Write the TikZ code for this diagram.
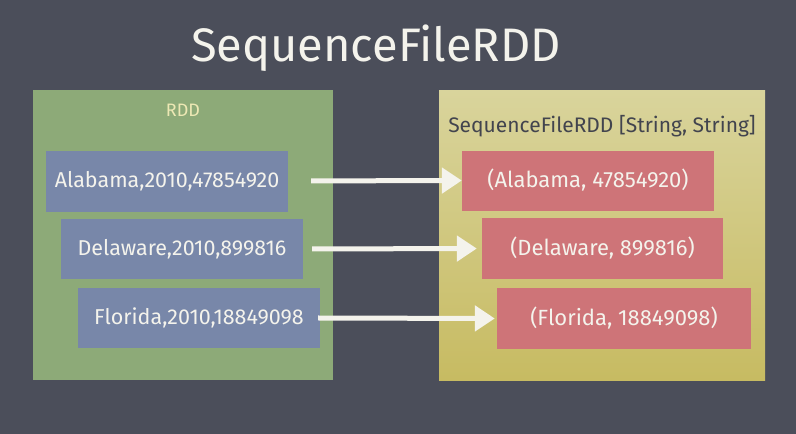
\documentclass[tikz,border=0pt]{standalone}
\usepackage{fontspec}
\setmainfont{Fira Sans}
\usetikzlibrary{arrows.meta}
\definecolor{board}{HTML}{4B4E5A}
\definecolor{chalk}{HTML}{F4F3EC}
\definecolor{rddgreen}{HTML}{8DAA78}
\definecolor{rowblue}{HTML}{7887A9}
\definecolor{seqtop}{HTML}{D9D49C}
\definecolor{seqbottom}{HTML}{C7BB62}
\definecolor{pairred}{HTML}{CE7478}
\definecolor{rddlabel}{HTML}{EDE8B4}
\definecolor{seqlabel}{HTML}{42444E}
\tikzset{
    panel/.style={inner sep=0pt, minimum width=#1},
    rowbox/.style={fill=rowblue, inner sep=0pt, minimum width=242pt,
        minimum height=61pt, text=chalk, font=\fontsize{21.5}{25}\selectfont},
    pairbox/.style={fill=pairred, inner sep=0pt, minimum height=60pt,
        text=chalk, font=\fontsize{22}{26}\selectfont},
    maparrow/.style={draw=chalk, line width=5pt,
        -{Triangle[width=25pt,length=20pt]}},
}
\begin{document}
\begin{tikzpicture}[x=1pt,y=-1pt]
    \fill[board] (0,0) rectangle (796,434);
    \useasboundingbox (0,0) rectangle (796,434);
    % title
    \node[text=chalk, font=\fontsize{47}{54}\selectfont] (title) at (376,48) {SequenceFileRDD};
    % the two panels
    \node[panel=300pt, minimum height=290pt, fill=rddgreen] (rdd) at (183,235) {};
    \node[panel=326pt, minimum height=290pt, top color=seqtop, bottom color=seqbottom] (seqrdd) at (602,235) {};
    \node[text=rddlabel, font=\fontsize{18}{21}\selectfont] (rddname) at (183,110) {RDD};
    \node[text=seqlabel, font=\fontsize{21}{24}\selectfont] (seqname) at (602,126) {SequenceFileRDD [String, String]};
    % rows of the text file
    \node[rowbox] (row1) at (167,181) {Alabama,2010,47854920};
    \node[rowbox, minimum height=60pt] (row2) at (182,249) {Delaware,2010,899816};
    \node[rowbox, minimum height=60pt] (row3) at (199,318) {Florida,2010,18849098};
    % key, value pairs
    \node[pairbox, minimum width=252pt] (pair1) at (588,180.5) {(Alabama, 47854920)};
    \node[pairbox, minimum width=241pt, minimum height=61pt] (pair2) at (602.5,248.5) {(Delaware, 899816)};
    \node[pairbox, minimum width=254pt, minimum height=61pt] (pair3) at (624,318.5) {(Florida, 18849098)};
    % arrows
    \draw[maparrow, shorten <=23pt] (row1.east) -- (pair1.west);
    \draw[maparrow, shorten <=9pt, shorten >=5pt] (row2.east) -- (pair2.west);
    \draw[maparrow, shorten <=-2pt, shorten >=2pt] (row3.east) -- (pair3.west);
\end{tikzpicture}
\end{document}
